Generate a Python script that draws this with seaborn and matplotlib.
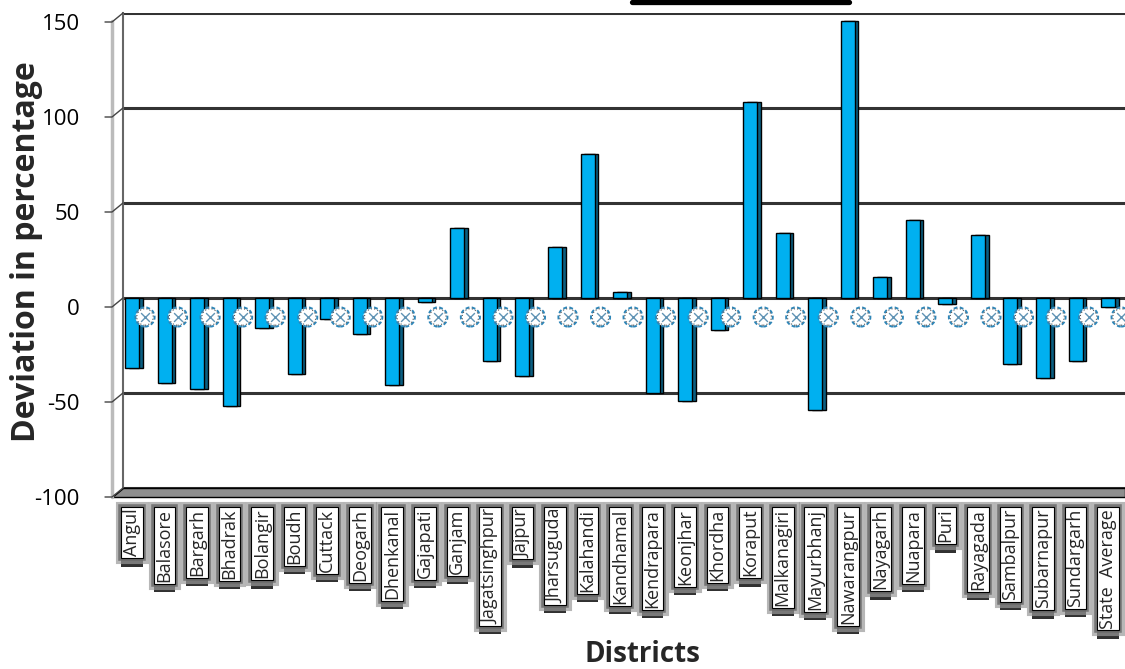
import numpy as np
import pandas as pd
import matplotlib
matplotlib.use("Agg")
import matplotlib.pyplot as plt
import matplotlib.patheffects as pe
from matplotlib.lines import Line2D
from matplotlib.patches import Polygon
from matplotlib.transforms import ScaledTranslation
import seaborn as sns

# ---------------- data ----------------
districts = ["Angul", "Balasore", "Bargarh", "Bhadrak", "Bolangir", "Boudh", "Cuttack",
             "Deogarh", "Dhenkanal", "Gajapati", "Ganjam", "Jagatsinghpur", "Jajpur",
             "Jharsuguda", "Kalahandi", "Kandhamal", "Kendrapara", "Keonjhar", "Khordha",
             "Koraput", "Malkanagiri", "Mayurbhanj", "Nawarangpur", "Nayagarh", "Nuapara",
             "Puri", "Rayagada", "Sambalpur", "Subarnapur", "Sundargarh", "State  Average"]
deviation = [-37, -45, -48, -57, -16, -40, -11, -19, -46, -2, 37, -33, -41, 27, 76, 3,
             -50, -54, -17, 103, 34, -59, 146, 11, 41, -3, 33, -35, -42, -33, -5]
y_ticks = [150, 100, 50, 0, -50, -100]
y_tick_labels = ["150", "100", "50", "0", "-50", "-100"]
marker_level = -10  # row of circular markers just below zero

df = pd.DataFrame({"District": districts, "Deviation": deviation})

# ---------------- style ----------------
sns.set_theme(style="white")
plt.rcParams["font.family"] = ["Open Sans", "DejaVu Sans"]

W, H = 1125, 669
fig = plt.figure(figsize=(W / 100, H / 100), dpi=100)
ax = fig.add_axes([123 / W, (H - 488) / H, (W - 123) / W, (488 - 13) / H])

face = "#00B0F0"
side = "#0A5F82"
n = len(districts)

# side faces (3D look)
ax.bar(np.arange(n) + 0.11, deviation, width=0.43, color=side, edgecolor="black",
       linewidth=1.0, zorder=2)
sns.barplot(data=df, x="District", y="Deviation", color=face, saturation=1,
            width=0.43, edgecolor="black", linewidth=1.0, ax=ax, zorder=3)

# row of circle markers between bars
mx = np.arange(n + 1) - 0.6
ax.scatter(mx, np.full(mx.shape, marker_level), s=190, facecolor="white",
           edgecolor="#2F86B8", linewidth=1.4, linestyle=(0, (2, 1.2)), zorder=4)
ax.scatter(mx, np.full(mx.shape, marker_level), s=140, facecolor="none",
           edgecolor="#555555", linewidth=0.8, linestyle=(0, (1, 2)), zorder=4)
ax.scatter(mx, np.full(mx.shape, marker_level), s=40, marker="x",
           color="#5F93B4", linewidth=1.0, zorder=5)

ax.set_xlim(-0.277, 30.52)
ax.set_ylim(-100, 150)
ax.set_yticks(y_ticks)
ax.set_yticklabels(y_tick_labels, fontsize=16, color="black")
ax.yaxis.grid(True, color="#333333", linewidth=2.2)
ax.set_axisbelow(True)
ax.tick_params(axis="y", length=0, pad=31)
for lab in ax.get_yticklabels():
    lab.set_transform(lab.get_transform() + ScaledTranslation(0, -9 / 100, fig.dpi_scale_trans))

for s in ["top", "right", "bottom"]:
    ax.spines[s].set_visible(False)
ax.spines["left"].set_color("#666666")
ax.spines["left"].set_linewidth(1.5)

ax.set_xlabel("")
ax.set_ylabel("")
ax.tick_params(axis="x", length=0, pad=15)
ax.set_xticks(range(n))
ax.set_xticklabels(districts, rotation=90, va="top", ha="center", fontsize=13)
for lab in ax.get_xticklabels():
    lab.set_bbox(dict(boxstyle="square,pad=0.1", facecolor="white", edgecolor="black",
                      linewidth=0.8))
    lab.get_bbox_patch().set_path_effects([
        pe.withSimplePatchShadow(offset=(0, -6), shadow_rgbFace="0.1", alpha=0.9),
        pe.Stroke(linewidth=8, foreground="0.6", alpha=0.7),
        pe.Stroke(linewidth=4, foreground="0.4", alpha=0.8),
        pe.Normal()])

# 3D wall / floor decorations (display coordinates)
fig.canvas.draw()
def ypix(v):
    return ax.transData.transform((0, v))[1]
x_back = ax.transAxes.transform((0, 0))[0]
x_front = x_back - 11
y_floor = ypix(-100)
floor = Polygon([[x_back, y_floor], [W, y_floor], [W, y_floor - 9], [x_front, y_floor - 9]],
                closed=True, transform=None, facecolor="#8E8E8E", edgecolor="black",
                linewidth=1.0, zorder=1)
fig.patches.append(floor)
fig.lines.append(Line2D([x_front, x_front], [ypix(150) - 8, y_floor - 9], transform=None,
                        color="#BBBBBB", linewidth=2.5))
for v in y_ticks:
    yb = ypix(v)
    fig.lines.append(Line2D([x_front - 7, x_front, x_back], [yb - 9, yb - 9, yb],
                            transform=None, color="#444444", linewidth=1.0))

# top bar remnant
fig.lines.append(Line2D([632 / W, 849 / W], [1 - 2 / H, 1 - 2 / H], transform=fig.transFigure,
                        color="black", linewidth=3.8))

fig.text(27 / W, 1 - 252 / H, "Deviation in percentage", rotation=90, ha="center",
         va="center", fontsize=23, fontweight="bold")
fig.text(642 / W, 1 - 654 / H, "Districts", ha="center", va="center", fontsize=20,
         fontweight="bold")

fig.savefig("out.png", dpi=100)
